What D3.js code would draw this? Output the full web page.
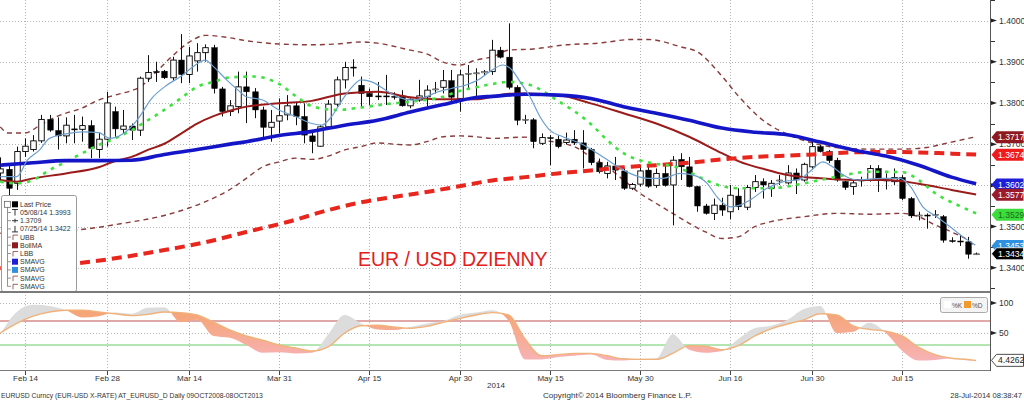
<!DOCTYPE html>
<html><head><meta charset="utf-8">
<script src="https://cdn.jsdelivr.net/npm/d3@7"></script>
<style>body{margin:0;background:#fff}svg{display:block;font-family:"Liberation Sans",Arial,sans-serif}</style>
</head><body><svg id="c" width="1024" height="401"></svg>
<script>
// ---- Data (daily EUR/USD, index 0 = 11 Feb 2014 ... 119 = 28 Jul 2014) ----
const opens = [1.3630,1.3639,1.3605,1.3682,1.3687,1.3708,1.3760,1.3733,1.3720,1.3737,1.3736,1.3745,1.3687,1.3712,1.3779,1.3736,1.3744,1.3734,1.3860,1.3876,1.3877,1.3861,1.3904,1.3869,1.3902,1.3922,1.3934,1.3834,1.3779,1.3791,1.3839,1.3827,1.3783,1.3741,1.3756,1.3771,1.3793,1.3767,1.3720,1.3695,1.3742,1.3797,1.3856,1.3887,1.3843,1.3823,1.3817,1.3817,1.3816,1.3817,1.3793,1.3807,1.3815,1.3832,1.3838,1.3854,1.3811,1.3871,1.3872,1.3873,1.3876,1.3928,1.3911,1.3838,1.3758,1.3759,1.3702,1.3716,1.3712,1.3704,1.3712,1.3703,1.3687,1.3655,1.3629,1.3647,1.3635,1.3593,1.3603,1.3637,1.3600,1.3629,1.3601,1.3663,1.3645,1.3597,1.3550,1.3532,1.3552,1.3536,1.3574,1.3547,1.3595,1.3609,1.3593,1.3611,1.3606,1.3630,1.3613,1.3645,1.3694,1.3682,1.3661,1.3609,1.3597,1.3611,1.3613,1.3641,1.3612,1.3609,1.3619,1.3568,1.3527,1.3528,1.3527,1.3524,1.3466,1.3465,1.3463,1.3433];
const highs = [1.3668,1.3649,1.3694,1.3714,1.3722,1.3771,1.3771,1.3765,1.3765,1.3771,1.3767,1.3758,1.3728,1.3827,1.3791,1.3783,1.3750,1.3864,1.3916,1.3900,1.3880,1.3912,1.3967,1.3936,1.3945,1.3942,1.3941,1.3839,1.3807,1.3876,1.3876,1.3836,1.3791,1.3783,1.3811,1.3819,1.3803,1.3799,1.3730,1.3746,1.3807,1.3864,1.3900,1.3906,1.3864,1.3835,1.3851,1.3868,1.3826,1.3831,1.3811,1.3856,1.3843,1.3851,1.3880,1.3880,1.3880,1.3892,1.3884,1.3880,1.3953,1.3936,1.3993,1.3843,1.3771,1.3763,1.3726,1.3722,1.3721,1.3728,1.3734,1.3734,1.3691,1.3665,1.3657,1.3669,1.3641,1.3606,1.3649,1.3653,1.3641,1.3649,1.3671,1.3678,1.3669,1.3599,1.3555,1.3568,1.3570,1.3601,1.3593,1.3601,1.3625,1.3617,1.3613,1.3625,1.3649,1.3641,1.3655,1.3710,1.3698,1.3686,1.3667,1.3611,1.3611,1.3621,1.3649,1.3649,1.3629,1.3641,1.3625,1.3572,1.3536,1.3532,1.3540,1.3528,1.3474,1.3479,1.3475,1.3437];
const lows = [1.3610,1.3574,1.3589,1.3669,1.3682,1.3703,1.3730,1.3687,1.3702,1.3702,1.3706,1.3666,1.3666,1.3694,1.3718,1.3726,1.3710,1.3720,1.3851,1.3851,1.3858,1.3854,1.3848,1.3848,1.3876,1.3900,1.3823,1.3767,1.3768,1.3775,1.3751,1.3763,1.3714,1.3706,1.3726,1.3758,1.3746,1.3702,1.3678,1.3694,1.3741,1.3791,1.3835,1.3864,1.3791,1.3795,1.3807,1.3795,1.3808,1.3791,1.3787,1.3803,1.3791,1.3823,1.3823,1.3803,1.3779,1.3835,1.3811,1.3866,1.3868,1.3908,1.3833,1.3746,1.3749,1.3690,1.3698,1.3649,1.3690,1.3700,1.3698,1.3641,1.3649,1.3629,1.3617,1.3613,1.3589,1.3589,1.3597,1.3594,1.3594,1.3597,1.3503,1.3613,1.3595,1.3536,1.3529,1.3516,1.3526,1.3518,1.3540,1.3540,1.3584,1.3568,1.3572,1.3601,1.3602,1.3579,1.3609,1.3641,1.3680,1.3654,1.3609,1.3589,1.3577,1.3597,1.3609,1.3584,1.3590,1.3601,1.3564,1.3521,1.3515,1.3495,1.3521,1.3461,1.3461,1.3453,1.3422,1.3431];
const closes = [1.3640,1.3593,1.3682,1.3695,1.3708,1.3760,1.3734,1.3720,1.3746,1.3735,1.3745,1.3690,1.3712,1.3800,1.3737,1.3744,1.3734,1.3860,1.3874,1.3874,1.3861,1.3904,1.3869,1.3914,1.3922,1.3934,1.3835,1.3779,1.3793,1.3839,1.3827,1.3783,1.3741,1.3753,1.3769,1.3793,1.3767,1.3722,1.3706,1.3742,1.3797,1.3856,1.3886,1.3885,1.3823,1.3815,1.3816,1.3816,1.3815,1.3793,1.3809,1.3817,1.3831,1.3834,1.3854,1.3814,1.3868,1.3872,1.3873,1.3876,1.3928,1.3911,1.3838,1.3758,1.3760,1.3706,1.3716,1.3715,1.3694,1.3710,1.3703,1.3687,1.3655,1.3633,1.3647,1.3637,1.3593,1.3602,1.3635,1.3598,1.3629,1.3600,1.3661,1.3645,1.3597,1.3550,1.3532,1.3552,1.3540,1.3576,1.3548,1.3595,1.3609,1.3601,1.3605,1.3613,1.3630,1.3613,1.3651,1.3694,1.3682,1.3660,1.3613,1.3595,1.3606,1.3613,1.3641,1.3613,1.3613,1.3619,1.3568,1.3526,1.3528,1.3527,1.3529,1.3467,1.3465,1.3463,1.3433,1.3434];

// Bollinger bands (upper, middle, lower)
const ubbIdx = [0,1,3,5,7,10,12,14,16,17,19,21,23,25,28,30,34,38,41,44,46,50,52,54,56,58,60,62,65,69,73,77,79,83,85,88,90,93,96,99,102,106,110,113,116,119];
const ubbVal = [1.3742,1.3727,1.3727,1.3748,1.3768,1.3788,1.3807,1.3819,1.3830,1.3838,1.3875,1.3914,1.3947,1.3964,1.3958,1.3951,1.3943,1.3941,1.3943,1.3948,1.3945,1.3928,1.3919,1.3899,1.3892,1.3904,1.3912,1.3928,1.3931,1.3941,1.3945,1.3954,1.3954,1.3936,1.3924,1.3865,1.3817,1.3758,1.3724,1.3703,1.3692,1.3688,1.3688,1.3692,1.3705,1.3718];
const bmaIdx = [0,2,4,8,12,14,16,18,20,22,24,26,28,30,34,38,42,46,50,54,58,60,62,64,68,72,76,80,84,88,90,94,96,100,104,108,112,116,119];
const bmaVal = [1.3613,1.3609,1.3617,1.3629,1.3644,1.3659,1.3669,1.3686,1.3701,1.3725,1.3750,1.3768,1.3781,1.3791,1.3799,1.3805,1.3823,1.3827,1.3814,1.3809,1.3809,1.3815,1.3822,1.3823,1.3819,1.3799,1.3775,1.3750,1.3718,1.3678,1.3659,1.3635,1.3625,1.3617,1.3613,1.3613,1.3604,1.3589,1.3578];
const lbbIdx = [0,5,9,15,20,23,26,28,30,32,34,36,38,40,42,44,46,48,50,52,54,56,58,60,64,66,70,72,74,76,78,80,82,84,86,88,90,92,94,98,102,106,110,112,114,116,118,119];
const lbbVal = [1.3484,1.3486,1.3491,1.3508,1.3527,1.3545,1.3569,1.3590,1.3617,1.3645,1.3657,1.3666,1.3663,1.3671,1.3686,1.3694,1.3703,1.3700,1.3698,1.3706,1.3718,1.3720,1.3718,1.3714,1.3717,1.3710,1.3694,1.3669,1.3645,1.3613,1.3581,1.3556,1.3532,1.3508,1.3487,1.3471,1.3475,1.3500,1.3512,1.3524,1.3532,1.3530,1.3532,1.3524,1.3504,1.3487,1.3467,1.3451];

// Moving averages
const smaBlueIdx = [0,4,8,12,16,20,24,28,30,34,38,42,46,50,54,58,60,64,68,72,76,80,84,88,92,96,100,104,108,112,116,119];
const smaBlueVal = [1.3649,1.3655,1.3660,1.3660,1.3661,1.3675,1.3687,1.3700,1.3706,1.3721,1.3731,1.3746,1.3758,1.3778,1.3796,1.3813,1.3816,1.3821,1.3819,1.3811,1.3791,1.3775,1.3758,1.3739,1.3729,1.3723,1.3705,1.3686,1.3671,1.3649,1.3620,1.3604];
const smaRedIdx = [0,9,15,20,25,30,35,40,44,48,52,56,60,64,68,72,76,80,84,88,92,96,100,104,108,112,116,119];
const smaRedVal = [1.3399,1.3410,1.3426,1.3443,1.3462,1.3487,1.3511,1.3540,1.3559,1.3572,1.3584,1.3598,1.3612,1.3620,1.3629,1.3636,1.3644,1.3649,1.3655,1.3663,1.3669,1.3672,1.3676,1.3680,1.3681,1.3680,1.3677,1.3675];
const smaGreenIdx = [0,2,4,6,8,10,12,14,16,18,20,22,24,26,28,31,34,36,38,41,44,47,50,54,56,58,60,62,64,66,68,70,72,74,76,78,80,82,84,86,88,90,94,97,100,102,106,110,112,114,117,119];
const smaGreenVal = [1.3609,1.3605,1.3613,1.3637,1.3657,1.3678,1.3698,1.3714,1.3734,1.3758,1.3783,1.3811,1.3839,1.3851,1.3862,1.3864,1.3846,1.3817,1.3792,1.3783,1.3789,1.3797,1.3803,1.3815,1.3829,1.3838,1.3846,1.3851,1.3847,1.3831,1.3805,1.3780,1.3749,1.3710,1.3678,1.3661,1.3652,1.3647,1.3632,1.3613,1.3598,1.3593,1.3593,1.3601,1.3613,1.3621,1.3633,1.3632,1.3613,1.3581,1.3550,1.3532];
const smaThinIdx = [0,2,3.3,4.8,6,8,10,12,13.4,15.5,17,18.3,20.3,22,23.5,25,26,27.6,29,30,32,34,36,38,39.2,40.4,41.7,42.9,44,45.3,47,48.5,50.2,51.8,53.4,55,56.7,58.3,59.7,61.3,62.4,63.4,64.6,65.8,67,68.6,70.7,72.8,74.7,76.8,78.9,80.8,82.9,84.5,86.2,87.4,89,90.2,91.4,93.5,95.5,97.5,98.7,100.3,101.5,102.8,104.5,107.6,109.7,111,112.5,114.2,115.8,117.4,118.9];
const smaThinVal = [1.3621,1.3621,1.3661,1.3686,1.3714,1.3725,1.3730,1.3728,1.3714,1.3733,1.3767,1.3807,1.3843,1.3864,1.3888,1.3904,1.3888,1.3856,1.3831,1.3815,1.3807,1.3783,1.3767,1.3750,1.3746,1.3767,1.3807,1.3839,1.3856,1.3851,1.3831,1.3814,1.3807,1.3814,1.3827,1.3835,1.3843,1.3856,1.3876,1.3892,1.3880,1.3851,1.3815,1.3767,1.3734,1.3718,1.3702,1.3678,1.3653,1.3629,1.3617,1.3617,1.3629,1.3625,1.3605,1.3572,1.3548,1.3552,1.3564,1.3593,1.3609,1.3615,1.3633,1.3657,1.3645,1.3625,1.3613,1.3617,1.3617,1.3597,1.3548,1.3524,1.3500,1.3475,1.3455];

// Stochastic (lower panel)
const stochIdx = [0,2,4,6,8,10,12,14,16,18,20,22,24,26,28,30,32,34,36,38,40,42,44,46,48,50,52,54,56,58,60,62,64,66,68,70,72,74,76,78,80,82,84,86,88,90,92,94,96,98,100,102,104,106,108,110,112,114,116,118,119];
const stochD = [50,66,78,85,88,88,85,82,79,81,85,84,80,68,55,45,38,30,25,20,27,50,62,63,60,58,61,68,74,80,84,80,40,12,14,16,16,12,7,6,6,16,29,28,22,29,45,57,65,72,82,80,62,56,53,45,26,14,8,6,4.4262];
const stochK = [48,85,97,95,88,76,78,84,82,92,93,68,72,45,42,30,17,18,16,17,48,80,66,56,55,60,66,70,80,84,88,70,6,6,10,12,14,5,4,7,8,48,22,17,20,40,58,62,72,90,95,50,52,67,50,20,4,5,8,4,3];

// Axes / legend texts
const tickIdx = [3,13,23,34,45,56,67,78,89,99,110];
const tickLab = ["Feb 14","Feb 28","Mar 14","Mar 31","Apr 15","Apr 30","May 15","May 30","Jun 16","Jun 30","Jul 15"];
const yTicks = [1.34,1.35,1.36,1.37,1.38,1.39,1.40];
const tagVals = [1.3717,1.3674,1.3602,1.3577,1.3529,1.3453,1.3434];
const tagCols = ["#8e1a1f","#ee1c1c","#1e1ed6","#9a1a2c","#3ddc3d","#2f8fe0","#000000"];
const tagText = ["#fff","#fff","#fff","#fff","#1a6a1a","#fff","#fff"];
const legendLab = ["Last Price","05/08/14 1.3993","1.3709","07/25/14 1.3422","UBB","BollMA","LBB","SMAVG","SMAVG","SMAVG","SMAVG"];

// ---- Drawing ----
const svg = d3.select("#c");
svg.append("rect").attr("width",1024).attr("height",401).attr("fill","#fff");
const defs = svg.append("defs");
defs.append("clipPath").attr("id","mc").append("rect").attr("x",0).attr("y",0).attr("width",990).attr("height",291);
defs.append("clipPath").attr("id","lc").append("rect").attr("x",0).attr("y",294).attr("width",990).attr("height",76);

const x = d3.scaleLinear().domain([0,119]).range([0.3,976.1]);
const y = d3.scaleLinear().domain([1.34,1.40]).range([267.8,20.5]);
const ys = d3.scaleLinear().domain([0,100]).range([363,303]);

// grid
const grid = svg.append("g").attr("stroke","#b4b4b4").attr("stroke-dasharray","1,2").attr("stroke-width",1);
yTicks.forEach(v=>grid.append("line").attr("x1",0).attr("x2",990).attr("y1",Math.round(y(v))+0.5).attr("y2",Math.round(y(v))+0.5));
tickIdx.forEach(i=>{
  const xx = Math.round(x(i))+0.5;
  grid.append("line").attr("x1",xx).attr("x2",xx).attr("y1",0).attr("y2",291);
  grid.append("line").attr("x1",xx).attr("x2",xx).attr("y1",295).attr("y2",370);
});
[100,50].forEach(v=>grid.append("line").attr("x1",0).attr("x2",990).attr("y1",Math.round(ys(v))+0.5).attr("y2",Math.round(ys(v))+0.5));

const main = svg.append("g").attr("clip-path","url(#mc)");
const ln = (idx,val)=>d3.line().x(d=>x(d[0])).y(d=>y(d[1])).curve(d3.curveMonotoneX)(d3.zip(idx,val));

// Bollinger bands
main.append("path").attr("d",ln(ubbIdx,ubbVal)).attr("fill","none").attr("stroke","#8a3b3b").attr("stroke-width",1.4).attr("stroke-dasharray","5,4");
main.append("path").attr("d",ln(lbbIdx,lbbVal)).attr("fill","none").attr("stroke","#8a3b3b").attr("stroke-width",1.4).attr("stroke-dasharray","5,4");

// Candles
const bw = 5.5;
const cg = main.append("g");
d3.range(opens.length).forEach(i=>{
  const cx = Math.round(x(i))+0.5;
  cg.append("line").attr("x1",cx).attr("x2",cx).attr("y1",y(highs[i])).attr("y2",y(lows[i])).attr("stroke","#111").attr("stroke-width",1);
  const up = closes[i] >= opens[i];
  const top = y(Math.max(opens[i],closes[i])), bot = y(Math.min(opens[i],closes[i]));
  const h = Math.max(1, bot-top);
  cg.append("rect").attr("x",cx-bw/2).attr("y",top).attr("width",bw).attr("height",h)
    .attr("fill", up ? "#fff" : "#000").attr("stroke", "#000").attr("stroke-width", up && h>1.5 ? 0.9 : 0.5);
});

// Moving averages
main.append("path").attr("d",ln(bmaIdx,bmaVal)).attr("fill","none").attr("stroke","#9b1b1b").attr("stroke-width",2);
main.append("path").attr("d",ln(smaRedIdx,smaRedVal)).attr("fill","none").attr("stroke","#e8261e").attr("stroke-width",4).attr("stroke-dasharray","10,6");
main.append("path").attr("d",ln(smaGreenIdx,smaGreenVal)).attr("fill","none").attr("stroke","#3ee23e").attr("stroke-width",2.6).attr("stroke-dasharray","3.5,5.5");
main.append("path").attr("d",ln(smaBlueIdx,smaBlueVal)).attr("fill","none").attr("stroke","#1515c8").attr("stroke-width",3.6);
main.append("path").attr("d",ln(smaThinIdx,smaThinVal)).attr("fill","none").attr("stroke","#6b9fd0").attr("stroke-width",1.2);

// Title
svg.append("text").attr("x",358).attr("y",266).attr("font-size",19.5).attr("fill","#e3201b").text("EUR / USD DZIENNY");

// Legend box
const lg = svg.append("g");
lg.append("rect").attr("x",1.5).attr("y",195.5).attr("width",75).attr("height",96).attr("rx",2).attr("fill","#fff").attr("stroke","#9a9a9a");
lg.append("line").attr("x1",7.5).attr("x2",7.5).attr("y1",207).attr("y2",286.5).attr("stroke","#777").attr("stroke-width",0.8);
legendLab.forEach((t,k)=>{
  const yy = 204.3 + k*8.2;
  lg.append("text").attr("x",20).attr("y",yy+2.5).attr("font-size",7).attr("fill","#333").text(t);
  if (k>0) lg.append("line").attr("x1",7.5).attr("x2",11).attr("y1",yy).attr("y2",yy).attr("stroke","#777").attr("stroke-width",0.8);
});
const sw = [[0,"#000"],[5,"#8e1a1f"],[7,"#1e1ed6"],[8,"#2f8fe0"]];
sw.forEach(([k,c])=>lg.append("rect").attr("x",12).attr("y",204.3+k*8.2-3).attr("width",6).attr("height",6).attr("fill",c));
const gy = k=>204.3+k*8.2;
lg.append("path").attr("d",`M12,${gy(1)-3}H18M15,${gy(1)-3}V${gy(1)+3}`).attr("stroke","#333").attr("fill","none");
lg.append("path").attr("d",`M12,${gy(2)}H18M15,${gy(2)-2}V${gy(2)+2}`).attr("stroke","#333").attr("fill","none");
lg.append("path").attr("d",`M12,${gy(3)+3}H18M15,${gy(3)-3}V${gy(3)+3}`).attr("stroke","#333").attr("fill","none");
[4,6,9,10].forEach(k=>lg.append("path").attr("d",`M13,${gy(k)+3}V${gy(k)-2}H18`).attr("stroke","#8a3b3b").attr("stroke-width",0.8).attr("fill","none"));
lg.append("rect").attr("x",4.5).attr("y",201.3).attr("width",6).attr("height",6).attr("fill","#fff").attr("stroke","#555").attr("stroke-width",0.7);

// Panel frame lines
svg.append("line").attr("x1",0).attr("x2",990).attr("y1",292).attr("y2",292).attr("stroke","#7a7a7a").attr("stroke-width",2);
svg.append("line").attr("x1",0).attr("x2",990).attr("y1",370.5).attr("y2",370.5).attr("stroke","#7a7a7a").attr("stroke-width",1);
svg.append("line").attr("x1",990.5).attr("x2",990.5).attr("y1",0).attr("y2",371).attr("stroke","#555").attr("stroke-width",1);

// Lower panel: stochastic
const low = svg.append("g").attr("clip-path","url(#lc)");
low.append("line").attr("x1",0).attr("x2",990).attr("y1",ys(70)).attr("y2",ys(70)).attr("stroke","#c0504d").attr("stroke-width",1);
low.append("line").attr("x1",0).attr("x2",990).attr("y1",ys(30)).attr("y2",ys(30)).attr("stroke","#66cc66").attr("stroke-width",1);
const grad = defs.append("linearGradient").attr("id","pg").attr("gradientUnits","userSpaceOnUse").attr("x1",0).attr("x2",0).attr("y1",303).attr("y2",363);
grad.append("stop").attr("offset","0").attr("stop-color","#f6a26a");
grad.append("stop").attr("offset","1").attr("stop-color","#f7b3b8");
const st = d3.zip(stochIdx,stochK,stochD);
const dLineUp = d3.area().x(d=>x(d[0])).y0(294).y1(d=>ys(d[2])).curve(d3.curveMonotoneX)(st);
const dLineDn = d3.area().x(d=>x(d[0])).y0(371).y1(d=>ys(d[2])).curve(d3.curveMonotoneX)(st);
defs.append("clipPath").attr("id","cu").append("path").attr("d",dLineUp);
defs.append("clipPath").attr("id","cd").append("path").attr("d",dLineDn);
const kd = d3.area().x(d=>x(d[0])).y0(d=>ys(d[2])).y1(d=>ys(d[1])).curve(d3.curveMonotoneX)(st);
low.append("g").attr("clip-path","url(#cu)").append("path").attr("d",kd).attr("fill","#dcdcdc");
low.append("g").attr("clip-path","url(#cd)").append("path").attr("d",kd).attr("fill","url(#pg)");
low.append("path").attr("d",d3.line().x(d=>x(d[0])).y(d=>ys(d[2])).curve(d3.curveMonotoneX)(st)).attr("fill","none").attr("stroke","#f0b27a").attr("stroke-width",1.4);

// lower legend
const ll = svg.append("g");
ll.append("rect").attr("x",940.5).attr("y",297.5).attr("width",47).attr("height",15).attr("rx",2).attr("fill","#f4f4f4").attr("stroke","#aaa");
ll.append("rect").attr("x",944).attr("y",301).attr("width",7).attr("height",7).attr("fill","#fff");
ll.append("text").attr("x",952).attr("y",308).attr("font-size",6.5).attr("fill","#555").text("%K");
ll.append("rect").attr("x",964).attr("y",301).attr("width",7).attr("height",7).attr("fill","#f39a2c");
ll.append("text").attr("x",972).attr("y",308).attr("font-size",6.5).attr("fill","#555").text("%D");

// Right axis
const ax = svg.append("g");
yTicks.forEach(v=>{
  const yy = y(v);
  ax.append("path").attr("d",`M991,${yy-2}L997,${yy}L991,${yy+2}Z`).attr("fill","#222");
  ax.append("text").attr("x",999).attr("y",yy).attr("dy","0.35em").attr("font-size",8.6).attr("fill","#333").text(v.toFixed(4));
});
[1.345,1.355,1.365,1.375,1.385,1.395,1.405,1.335].forEach(v=>{
  const yy = Math.round(y(v))+0.5;
  ax.append("line").attr("x1",991).attr("x2",995).attr("y1",yy).attr("y2",yy).attr("stroke","#333");
});
[100,50].forEach(v=>{
  const yy = ys(v);
  ax.append("path").attr("d",`M991,${yy-2}L997,${yy}L991,${yy+2}Z`).attr("fill","#222");
  ax.append("text").attr("x",999).attr("y",yy).attr("dy","0.35em").attr("font-size",8.6).attr("fill","#333").text(String(v));
});
tagVals.forEach((v,k)=>{
  const yy = y(v);
  ax.append("path").attr("d",`M991.5,${yy}L996.5,${yy-6}L1023.5,${yy-6}L1023.5,${yy+6}L996.5,${yy+6}Z`)
    .attr("fill",tagCols[k]).attr("stroke", k===6 ? "#fff" : "none").attr("stroke-width",0.8);
  ax.append("text").attr("x",998).attr("y",yy).attr("dy","0.35em").attr("font-size",8.6).attr("fill",tagText[k]).text(v.toFixed(4));
});
{
  const yy = ys(stochD[stochD.length-1]);
  ax.append("path").attr("d",`M991.5,${yy}L996.5,${yy-6}L1023.5,${yy-6}L1023.5,${yy+6}L996.5,${yy+6}Z`).attr("fill","#fff").attr("stroke","#222").attr("stroke-width",0.8);
  ax.append("text").attr("x",998).attr("y",yy).attr("dy","0.35em").attr("font-size",8.6).attr("fill","#222").text(stochD[stochD.length-1].toFixed(4));
}

// Bottom axis
const bx = svg.append("g");
tickIdx.forEach((i,k)=>{
  const xx = Math.round(x(i))+0.5;
  bx.append("line").attr("x1",xx).attr("x2",xx).attr("y1",371).attr("y2",375).attr("stroke","#444");
  bx.append("text").attr("x",xx).attr("y",381).attr("text-anchor","middle").attr("font-size",8).attr("fill","#333").text(tickLab[k]);
});
bx.append("text").attr("x",496).attr("y",388).attr("text-anchor","middle").attr("font-size",8).attr("fill","#333").text("2014");
bx.append("text").attr("x",1).attr("y",398).attr("font-size",6.8).attr("fill","#333").text("EURUSD Curncy (EUR-USD X-RATE) AT_EURUSD_D  Daily 09OCT2008-08OCT2013");
bx.append("text").attr("x",543).attr("y",398).attr("font-size",8.1).attr("fill","#333").text("Copyright\u00A9 2014 Bloomberg Finance L.P.");
bx.append("text").attr("x",1022).attr("y",398).attr("text-anchor","end").attr("font-size",7.6).attr("fill","#333").text("28-Jul-2014 08:38:47");
</script></body></html>
